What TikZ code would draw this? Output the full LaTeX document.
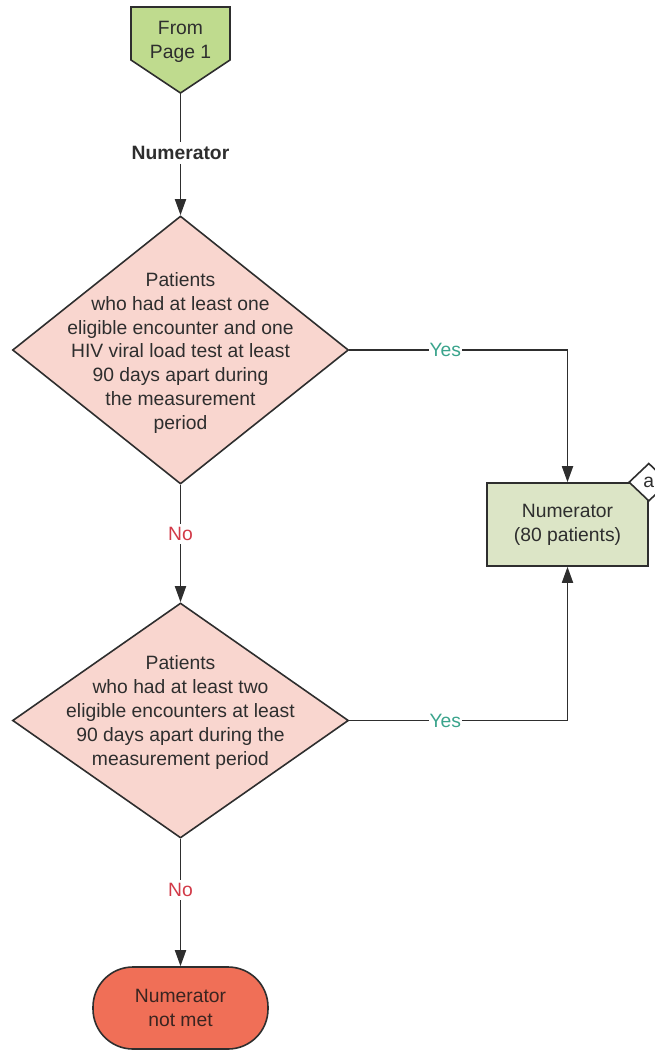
\documentclass[tikz,border=0pt]{standalone}
\usepackage{fontspec}
\setmainfont{Liberation Sans}
\usetikzlibrary{shapes.geometric,arrows.meta}

\definecolor{startgreen}{HTML}{BFDB8E}
\definecolor{boxgreen}{HTML}{DCE5C6}
\definecolor{decpink}{HTML}{F9D6CF}
\definecolor{endred}{HTML}{F06F57}
\definecolor{endtext}{HTML}{3A2420}
\definecolor{yesgreen}{HTML}{3AA48C}
\definecolor{nored}{HTML}{D23A48}
\definecolor{linegray}{HTML}{2E2E2E}

\newcommand{\flowfont}{\fontsize{19.3}{23.8}\selectfont}

\begin{document}
\begin{tikzpicture}[x=1pt,y=-1pt,
    every node/.style={font=\flowfont, text=linegray, align=center},
    decision/.style={diamond, draw=linegray, line width=1.6pt, fill=decpink,
        minimum width=336pt, minimum height=268pt, inner sep=0pt},
    line/.style={draw=linegray, line width=1.8pt},
    arr/.style={line, -{Triangle[length=16pt,width=11pt]}},
    yes/.style={fill=white, text=yesgreen, inner sep=1pt},
    no/.style={fill=white, text=nored, inner sep=3pt}]
    \useasboundingbox (0,0) rectangle (655,1051);

    \draw[fill=startgreen, draw=linegray, line width=1.6pt]
        (131,7) -- (230,7) -- (230,60) -- (180.5,93) -- (131,60) -- cycle;
    \node (start) at (180.5,42) {From\\Page 1};
    \coordinate (starttip) at (180.5,93);
    \node[font=\flowfont\bfseries, inner sep=4pt] (numlabel) at (180.5,153) {Numerator};

    \node[decision, label={[yshift=-3pt]center:{Patients\\who had at least one\\eligible encounter and one\\HIV viral load test at least\\90 days apart during\\the measurement\\period}}] (d1) at (180.5,350) {};
    \node[decision, minimum height=235pt, label={[yshift=8pt]center:{Patients\\who had at least two\\eligible encounters at least\\90 days apart during the\\measurement period}}] (d2) at (180.5,720.5) {};

    \node[draw=linegray, line width=1.6pt, fill=boxgreen, minimum width=161pt,
        minimum height=83pt, inner sep=0pt] (numbox) at (567.5,524.5) {Numerator\\(80 patients)};
    \node[diamond, draw=linegray, line width=1.6pt, fill=white, minimum width=40pt,
        minimum height=38pt, inner sep=0pt] (flag) at (numbox.north east) {a};
    \node[draw=linegray, line width=1.6pt, fill=endred, rounded corners=40pt,
        minimum width=175pt, minimum height=82pt, text=endtext] (notmet) at (180.5,1008) {Numerator\\not met};

    \draw[line] (starttip) -- (numlabel);
    \draw[arr] (numlabel) -- (d1.north);
    \draw[arr] (d1.east) -| node[yes, pos=0.22] {Yes} (numbox.north);
    \draw[arr] (d1.south) -- node[no, pos=0.42] {No} (d2.north);
    \draw[arr] (d2.east) -| node[yes, pos=0.22] {Yes} (numbox.south);
    \draw[arr] (d2.south) -- node[no, pos=0.40] {No} (notmet.north);
\end{tikzpicture}
\end{document}
